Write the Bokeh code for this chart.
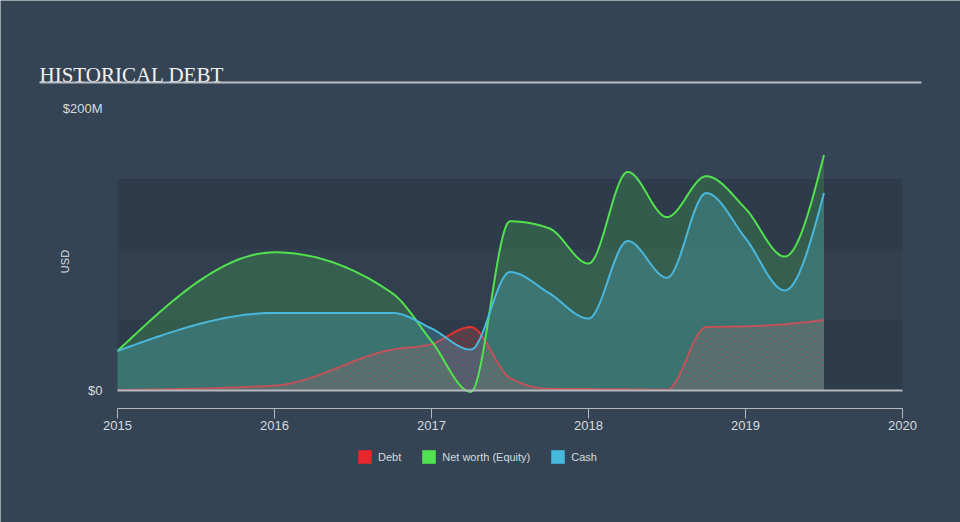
import numpy as np
from bokeh.plotting import figure
from bokeh.models import Range1d, FixedTicker, Legend, LegendItem
from bokeh.embed import file_html
from bokeh.resources import INLINE
from bokeh.core.properties import value

# ---------------- data (USD millions) ----------------
years = [2015.0, 2016.0, 2016.75, 2017.0, 2017.25, 2017.5, 2017.75,
         2018.0, 2018.25, 2018.5, 2018.75, 2019.0, 2019.25, 2019.5]
debt = [0.3, 3.5, 29, 33, 45, 9, 1.2, 1.0, 0.8, 0.5, 45, 45.5, 47, 50]
equity = [28, 98, 69, 35, -1, 120, 115, 90, 155, 123, 152, 129, 95, 167]
cash = [28, 55, 55, 44, 29, 84, 69, 51, 106, 80, 140, 108, 71, 140]

x_ticks = [2015, 2016, 2017, 2018, 2019, 2020]
y_ticks = [0, 200]
y_tick_labels = ["$0", "$200M"]
band_bottoms = [0, 50, 100]
band_tops = [50, 100, 150]
title_text = "HISTORICAL DEBT"
y_title = "USD"
legend_names = ["Debt", "Net worth (Equity)", "Cash"]

# ---------------- styles / layout ----------------
BG = "#344454"
BAND_COLORS = ["#2e3b4b", "#313f4f", "#2e3b4b"]
RED = "#e8312f"
GREEN = "#52e24e"
BLUE = "#4ab8dc"
TEXT = "#d6dadf"
LEGEND_COLORS = ["#e8262b", "#50e34f", "#47b9dc"]

W, H = 960, 522
PX_YEAR = 157.0          # 2015 at x=117, 2020 at x=902
X2015 = 117
PPM = (390 - 108) / 200.0  # $0 at y=390, $200M at y=108
Y0 = 390


def cx_(px):   # canvas x -> data x
    return x_ticks[0] + (px - X2015) / PX_YEAR


def cy_(py):   # canvas y -> data y
    return (Y0 - py) / PPM


def monotone(xs, ys, n=40):
    """Monotone cubic (d3 curveMonotoneX) rendering of the read points."""
    xs = np.asarray(xs, float)
    ys = np.asarray(ys, float)
    h = np.diff(xs)
    s = np.diff(ys) / h
    sg = lambda v: -1.0 if v < 0 else 1.0
    m = np.zeros_like(ys)
    for i in range(1, len(xs) - 1):
        p = (s[i - 1] * h[i] + s[i] * h[i - 1]) / (h[i - 1] + h[i])
        m[i] = (sg(s[i - 1]) + sg(s[i])) * min(abs(s[i - 1]), abs(s[i]), 0.5 * abs(p))
    m[0] = (3 * s[0] - m[1]) / 2
    m[-1] = (3 * s[-1] - m[-2]) / 2
    ox, oy = [], []
    for i in range(len(xs) - 1):
        t = np.linspace(0, 1, n, endpoint=(i == len(xs) - 2))
        h00 = 2 * t**3 - 3 * t**2 + 1
        h10 = t**3 - 2 * t**2 + t
        h01 = -2 * t**3 + 3 * t**2
        h11 = t**3 - t**2
        ox.extend(xs[i] + t * h[i])
        oy.extend(h00 * ys[i] + h10 * h[i] * m[i] + h01 * ys[i + 1] + h11 * h[i] * m[i + 1])
    return np.array(ox), np.array(oy)


# frame covers the whole canvas; axes are pinned with fixed_location
p = figure(width=W, height=H,
           x_range=Range1d(cx_(0), cx_(W)), y_range=Range1d(cy_(H), cy_(0)),
           output_backend="svg", toolbar_location=None, min_border=0)
p.background_fill_color = BG
p.border_fill_color = BG
p.outline_line_color = None
p.grid.visible = False

# title + rule
p.text(x=[cx_(39)], y=[cy_(74)], text=[title_text], text_font=value("Liberation Serif"),
       text_font_size="21px", text_baseline="alphabetic", text_align="left",
       text_color="#f2f2f2")
p.segment(x0=[cx_(39)], y0=[cy_(82)], x1=[cx_(921)], y1=[cy_(82)],
          line_color="#b9bdc3", line_width=2)

# bands
p.quad(left=x_ticks[0], right=x_ticks[-1], bottom=band_bottoms, top=band_tops,
       fill_color=BAND_COLORS, line_color=None)

ex, ey = monotone(years, equity)
dx, dy = monotone(years, debt)
kx, ky = monotone(years, cash)

p.varea(x=ex, y1=0, y2=ey, fill_color=GREEN, fill_alpha=0.2)
p.varea(x=dx, y1=0, y2=dy, fill_color="#8a6a60", fill_alpha=0.15,
        hatch_pattern="/", hatch_color=RED, hatch_alpha=0.45, hatch_scale=5, hatch_weight=1)
p.line(dx, dy, line_color=RED, line_width=2)
p.varea(x=kx, y1=0, y2=ky, fill_color=BLUE, fill_alpha=0.25)
p.line(ex, ey, line_color=GREEN, line_width=2)
p.line(kx, ky, line_color=BLUE, line_width=2)

# zero line
p.segment(x0=[x_ticks[0]], y0=[0], x1=[x_ticks[-1]], y1=[0], line_color="#b4b8bd", line_width=2)

# x axis pinned at canvas y=408
p.segment(x0=[x_ticks[0]], y0=[cy_(408)], x1=[x_ticks[-1]], y1=[cy_(408)],
          line_color="#b4b9bf", line_width=1)
xa = p.xaxis[0]
xa.fixed_location = cy_(408)
xa.ticker = FixedTicker(ticks=x_ticks)
xa.axis_line_color = None
xa.major_tick_line_color = "#b4b9bf"
xa.major_tick_out = 10
xa.major_tick_in = 0
xa.minor_tick_line_color = None
xa.major_label_standoff = 2
xa.major_label_text_font = "Liberation Sans"
xa.major_label_text_font_size = "13px"
xa.major_label_text_color = TEXT

# y axis pinned at x=2015
ya = p.yaxis[0]
ya.fixed_location = x_ticks[0]
ya.ticker = FixedTicker(ticks=y_ticks)
ya.major_label_overrides = {t: l for t, l in zip(y_ticks, y_tick_labels)}
ya.axis_line_color = None
ya.major_tick_line_color = None
ya.minor_tick_line_color = None
ya.major_label_standoff = 9
ya.major_label_text_font = "Liberation Sans"
ya.major_label_text_font_size = "13px"
ya.major_label_text_color = TEXT
ya.axis_label = y_title
ya.axis_label_standoff = -11
ya.axis_label_text_font = "Liberation Sans"
ya.axis_label_text_font_size = "11px"
ya.axis_label_text_font_style = "normal"
ya.axis_label_text_color = TEXT

# legend inside the (full-canvas) frame, bottom-left measured from frame bottom-left
items = []
for nm, c in zip(legend_names, LEGEND_COLORS):
    r = p.quad(left=[np.nan], right=[np.nan], top=[np.nan], bottom=[np.nan],
               fill_color=c, line_color=None)
    items.append(LegendItem(label=nm, renderers=[r]))
legend = Legend(items=items, orientation="horizontal", location=(356, H - 465),
                background_fill_alpha=0, border_line_alpha=0,
                label_text_color=TEXT, label_text_font="Liberation Sans",
                label_text_font_size="11px", glyph_width=17, glyph_height=17,
                label_height=17, spacing=19, label_standoff=5, padding=0, margin=0)
p.add_layout(legend, "center")

open("out.html", "w").write(file_html(p, INLINE))
